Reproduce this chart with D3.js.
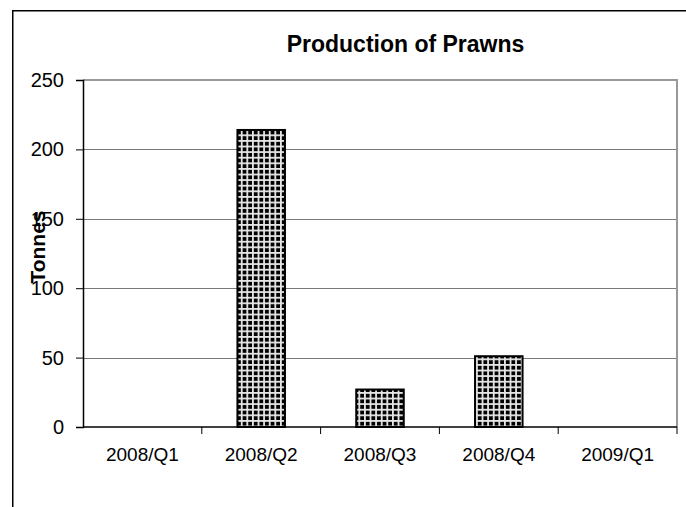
<!DOCTYPE html>
<html>
<head>
<meta charset="utf-8">
<script src="https://cdn.jsdelivr.net/npm/d3@7"></script>
<style>
  html, body { margin: 0; padding: 0; background: #fff; }
  svg { display: block; font-family: "Liberation Sans", Arial, sans-serif; }
</style>
</head>
<body>
<svg id="chart" width="686" height="507"></svg>
<script>
const categories = ["2008/Q1", "2008/Q2", "2008/Q3", "2008/Q4", "2009/Q1"];
const tonnes = [0, 214, 27, 51, 0];
const yTicks = [0, 50, 100, 150, 200, 250];
const titleText = "Production of Prawns";
const yTitle = "Tonnes";

const svg = d3.select("#chart");
const W = 686, H = 507;
const plot = { left: 83, right: 677, top: 80, bottom: 427 };

// pattern
const defs = svg.append("defs");
const pat = defs.append("pattern")
  .attr("id", "grid")
  .attr("patternUnits", "userSpaceOnUse")
  .attr("width", 5.6).attr("height", 5.6);
pat.append("rect").attr("width", 5.6).attr("height", 5.6).attr("fill", "#000");
pat.append("rect").attr("x", 0).attr("y", 0).attr("width", 1.8).attr("height", 5.6).attr("fill", "#e6e6e6");
pat.append("rect").attr("x", 0).attr("y", 0).attr("width", 5.6).attr("height", 1.8).attr("fill", "#e6e6e6");

// frame
svg.append("path")
  .attr("d", `M12.75,${H} L12.75,10.75 L${W},10.75`)
  .attr("fill", "none").attr("stroke", "#000").attr("stroke-width", 1.5);

const x = d3.scaleBand().domain(categories)
  .range([plot.left, plot.right])
  .paddingInner(0.6).paddingOuter(0.3);
const xOuter = d3.scaleBand().domain(categories)
  .range([plot.left, plot.right]).padding(0);
const y = d3.scaleLinear().domain([0, 250]).range([plot.bottom, plot.top]);

// gridlines
svg.append("g").selectAll("line")
  .data(yTicks.filter(t => t > 0 && t < 250))
  .join("line")
  .attr("x1", plot.left).attr("x2", plot.right)
  .attr("y1", d => Math.round(y(d)) + 0.5).attr("y2", d => Math.round(y(d)) + 0.5)
  .attr("stroke", "#7a7a7a").attr("stroke-width", 1);

// plot area border top/right
svg.append("path")
  .attr("d", `M${plot.left},${y(250)} L${plot.right},${y(250)} L${plot.right},${plot.bottom}`)
  .attr("fill", "none").attr("stroke", "#999").attr("stroke-width", 2);

// bars
svg.append("g").selectAll("rect")
  .data(categories.map((c, i) => ({ c, v: tonnes[i] })).filter(d => d.v > 0))
  .join("rect")
  .attr("x", d => x(d.c))
  .attr("y", d => y(d.v))
  .attr("width", x.bandwidth())
  .attr("height", d => y(0) - y(d.v))
  .attr("fill", "url(#grid)")
  .attr("stroke", "#000").attr("stroke-width", 2);

// y axis
const yAxis = d3.axisLeft(y).tickValues(yTicks).tickSize(7).tickPadding(12).tickFormat(d3.format("d"));
const gy = svg.append("g").attr("transform", `translate(${plot.left},0)`).call(yAxis);
gy.select(".domain").attr("stroke", "#000").attr("stroke-width", 1.5);
gy.selectAll(".tick line").attr("stroke", "#000").attr("stroke-width", 1);
gy.selectAll(".tick text").attr("font-size", 20).attr("fill", "#000")
  .attr("font-family", "'Liberation Sans', Arial, sans-serif");

// x axis
const gx = svg.append("g").attr("transform", `translate(0,${plot.bottom})`);
gx.append("line").attr("x1", plot.left).attr("x2", plot.right)
  .attr("y1", 0).attr("y2", 0).attr("stroke", "#000").attr("stroke-width", 1.5);
const bounds = categories.map(c => xOuter(c) + xOuter.bandwidth());
gx.selectAll("line.tk").data(bounds).join("line").attr("class", "tk")
  .attr("x1", d => d).attr("x2", d => d).attr("y1", 0).attr("y2", 7)
  .attr("stroke", "#000").attr("stroke-width", 1);
gx.selectAll("text").data(categories).join("text")
  .attr("x", d => xOuter(d) + xOuter.bandwidth() / 2)
  .attr("y", 34)
  .attr("text-anchor", "middle")
  .attr("font-size", 19)
  .attr("fill", "#000")
  .text(d => d);

// title
svg.append("text")
  .attr("x", 405.5).attr("y", 52)
  .attr("text-anchor", "middle")
  .attr("font-size", 23).attr("font-weight", "bold")
  .text(titleText);

// y title
svg.append("text")
  .attr("transform", "translate(45,247) rotate(-90)")
  .attr("text-anchor", "middle")
  .attr("font-size", 21).attr("font-weight", "bold")
  .text(yTitle);
</script>
</body>
</html>
